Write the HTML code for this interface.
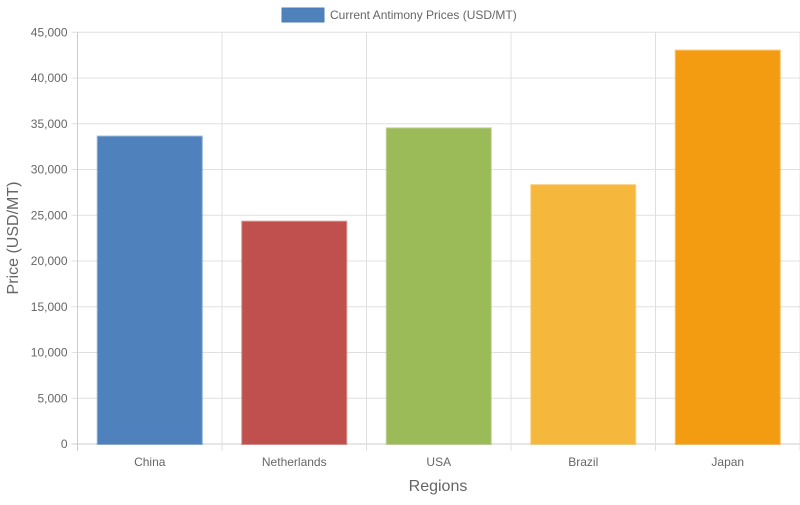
<!DOCTYPE html>
<html><head><meta charset="utf-8"><style>
body{margin:0;background:#fff;font-family:"Liberation Sans",sans-serif}
svg text{font-family:"Liberation Sans",sans-serif}
</style></head><body>
<svg id="c" width="800" height="500">
<g>
<rect x="282" y="8" width="42" height="14" fill="#4f81bd" stroke="#4a7cb8"/>
<text x="330" y="19" font-size="12" fill="#666">Current Antimony Prices (USD/MT)</text>
</g>
<text transform="translate(18,238) rotate(-90)" text-anchor="middle" font-size="16" fill="#666">Price (USD/MT)</text>
<text x="438" y="491" text-anchor="middle" font-size="16" fill="#666">Regions</text>
<g id="grid"></g><g id="bars"></g><g id="labels"></g>
</svg>
<script>
const categories=["China","Netherlands","USA","Brazil","Japan"];
const values=[33600,24300,34500,28300,43000];
const colors=["#4f81bd","#c0504d","#9bbb59","#f5b83d","#f39c12"];
const yTicks=[0,5000,10000,15000,20000,25000,30000,35000,40000,45000];
const L=77.5,R=800,T=32.3,B=444,yMax=45000;
const ns="http://www.w3.org/2000/svg";
const y=v=>B-(v/yMax)*(B-T);
const bw=(R-L)/categories.length;
const x=i=>L+i*bw;
const g=document.getElementById("grid"),bg=document.getElementById("bars"),lg=document.getElementById("labels");
function mk(tag,a,p){const e=document.createElementNS(ns,tag);for(const k in a)e.setAttribute(k,a[k]);p.appendChild(e);return e;}
yTicks.forEach(t=>{
 const ln=mk("line",{x1:L-6,x2:R,y1:y(t),y2:y(t),stroke:t===0?"#ccc":"#e0e0e0"},g);
 
 
 const tx=mk("text",{x:L-10,y:y(t)+4,"text-anchor":"end","font-size":"12",fill:"#666"},lg);
 tx.textContent=t.toLocaleString("en-US");
 
 
});
for(let i=0;i<=categories.length;i++){
 const ln=mk("line",{x1:x(i),x2:x(i),y1:T,y2:B+7,stroke:i===0?"#ccc":"#e0e0e0"},g);
 
 
}
categories.forEach((c,i)=>{
 const w=bw*0.72,x0=x(i)+(bw-w)/2;
 const r=mk("rect",{x:x0,y:y(values[i]),width:w,height:B-y(values[i]),fill:colors[i],stroke:colors[i],"stroke-opacity":"0.6","stroke-width":"2"},bg);
 
 
 const tx=mk("text",{x:x(i)+bw/2,y:466,"text-anchor":"middle","font-size":"12",fill:"#666"},lg);
 tx.textContent=c;
 
 
});
</script>
</body></html>
